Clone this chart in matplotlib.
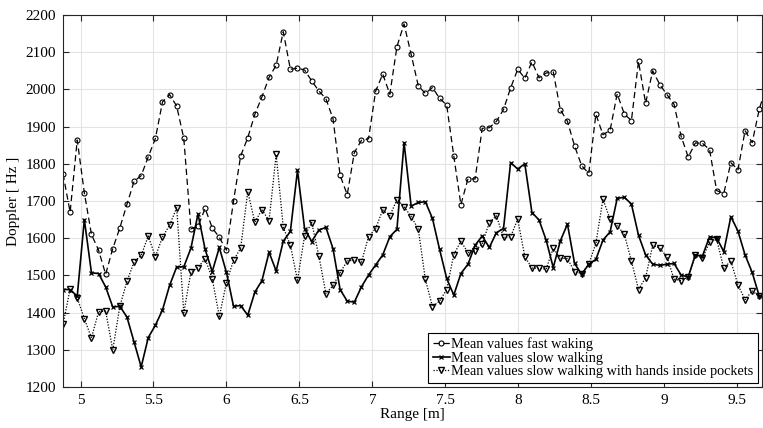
import numpy as np
import matplotlib
matplotlib.use('Agg')
import matplotlib.pyplot as plt
from matplotlib.ticker import FuncFormatter

plt.rcParams['font.family'] = ['Liberation Serif', 'DejaVu Serif']

# ==============================
# data
# ==============================
range_m = np.linspace(4.88, 9.70, 100)

fast = [1773, 1670, 1864, 1722, 1610, 1568, 1503, 1572, 1628, 1691,
        1753, 1768, 1819, 1868, 1966, 1986, 1955, 1868, 1625, 1632,
        1680, 1628, 1602, 1568, 1700, 1821, 1870, 1933, 1980, 2032,
        2065, 2155, 2054, 2057, 2052, 2023, 1996, 1975, 1921, 1769,
        1717, 1830, 1863, 1867, 1995, 2041, 1987, 2115, 2176, 2094,
        2010, 1989, 2005, 1976, 1958, 1821, 1690, 1760, 1759, 1895,
        1897, 1914, 1946, 2004, 2054, 2030, 2074, 2031, 2044, 2047,
        1945, 1914, 1848, 1795, 1774, 1933, 1878, 1890, 1988, 1934,
        1916, 2075, 1963, 2050, 2013, 1986, 1960, 1874, 1818, 1856,
        1855, 1838, 1728, 1720, 1803, 1784, 1889, 1857, 1947, 2010]

slow = [1462, 1462, 1444, 1650, 1507, 1505, 1469, 1415, 1417, 1388,
        1321, 1254, 1333, 1366, 1407, 1473, 1523, 1523, 1573, 1665,
        1570, 1510, 1575, 1508, 1417, 1419, 1393, 1455, 1486, 1562,
        1512, 1592, 1618, 1782, 1626, 1591, 1622, 1629, 1572, 1462,
        1431, 1428, 1469, 1501, 1528, 1555, 1604, 1624, 1857, 1686,
        1696, 1698, 1653, 1570, 1492, 1447, 1505, 1530, 1581, 1606,
        1575, 1615, 1626, 1803, 1786, 1800, 1669, 1649, 1595, 1521,
        1593, 1638, 1532, 1503, 1530, 1543, 1595, 1617, 1707, 1710,
        1692, 1608, 1555, 1530, 1527, 1530, 1532, 1501, 1496, 1555,
        1552, 1604, 1601, 1564, 1658, 1619, 1555, 1508, 1444, 1440]

pockets = [1368, 1464, 1439, 1384, 1332, 1402, 1404, 1300, 1417, 1484,
           1536, 1554, 1606, 1550, 1603, 1635, 1682, 1399, 1509, 1521,
           1545, 1491, 1390, 1480, 1541, 1573, 1725, 1643, 1677, 1647,
           1825, 1629, 1581, 1487, 1606, 1642, 1553, 1451, 1473, 1507,
           1539, 1541, 1535, 1604, 1626, 1676, 1660, 1704, 1685, 1658,
           1625, 1489, 1416, 1431, 1462, 1556, 1592, 1561, 1566, 1584,
           1642, 1660, 1602, 1604, 1651, 1550, 1520, 1519, 1517, 1573,
           1546, 1545, 1510, 1505, 1530, 1586, 1705, 1651, 1633, 1611,
           1539, 1462, 1494, 1581, 1573, 1550, 1490, 1486, 1496, 1555,
           1546, 1589, 1597, 1519, 1539, 1474, 1435, 1458, 1444, 1440]

labels = ['Mean values fast waking',
          'Mean values slow walking',
          'Mean values slow walking with hands inside pockets']

x_ticks = [5, 5.5, 6, 6.5, 7, 7.5, 8, 8.5, 9, 9.5]
y_ticks = list(range(1200, 2201, 100))

# ==============================
# plot
# ==============================
fig = plt.figure(figsize=(7.63, 4.28), dpi=100)
ax = fig.add_axes([0.0826, 0.0958, 0.9161, 0.8692])

ax.plot(range_m, fast, color='black', ls=(0, (5, 3)), lw=0.9,
        marker='o', ms=3.6, mfc='none', mec='black', mew=0.8, label=labels[0])
ax.plot(range_m, slow, color='black', ls='-', lw=1.2,
        marker='x', ms=2.3, mew=0.9, label=labels[1])
ax.plot(range_m, pockets, color='black', ls=(0, (1, 1.3)), lw=0.9,
        marker='v', ms=4.2, mfc='none', mec='black', mew=1.0, label=labels[2])

ax.set_xlim(4.88, 9.67)
ax.set_ylim(1200, 2200)
ax.set_xticks(x_ticks)
ax.set_yticks(y_ticks)
ax.xaxis.set_major_formatter(FuncFormatter(lambda v, p: f'{v:g}'))
ax.tick_params(direction='in', top=True, right=True, labelsize=11,
               length=4, width=0.8, color='#262626', pad=5)
ax.grid(True, color='#e3e3e3', lw=0.8)
ax.set_axisbelow(True)
for s in ax.spines.values():
    s.set_color('#262626')
    s.set_linewidth(0.8)

ax.set_xlabel('Range [m]', fontsize=11, labelpad=1)
ax.set_ylabel('Doppler [ Hz ]', fontsize=11, labelpad=4)

leg = ax.legend(loc='lower right', fontsize=10.3, frameon=True, fancybox=False,
                edgecolor='black', framealpha=1, handlelength=1.2,
                handletextpad=0.1, borderpad=0.3, labelspacing=0.05,
                borderaxespad=0.3)
leg.get_frame().set_linewidth(0.8)

fig.savefig('out.png', dpi=100)
